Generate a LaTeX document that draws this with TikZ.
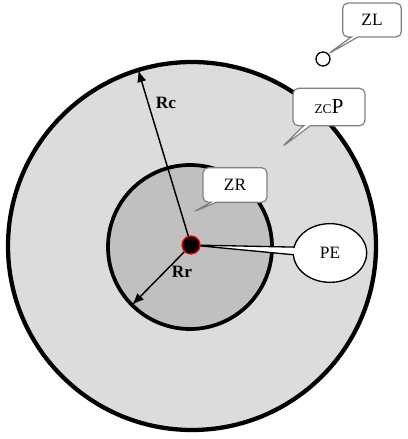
\documentclass[tikz,border=0pt]{standalone}
\usepackage{fontspec}
\setmainfont{Liberation Serif}
\usepackage{tikz}
\usetikzlibrary{arrows.meta,shapes.callouts}

\definecolor{zcgray}{RGB}{220,220,220}
\definecolor{zrgray}{RGB}{192,192,192}
\definecolor{boxgray}{RGB}{128,128,128}

\begin{document}
\begin{tikzpicture}[x=0.75pt, y=-0.75pt,
        zone/.style={draw, circle, inner sep=0pt, outer sep=0pt},
        tag/.style={rectangle callout, draw=boxgray, fill=white, line width=0.9pt, rounded corners=4pt, inner sep=0pt, callout pointer width=5pt, font=\fontsize{13}{15}\selectfont},
        radius arrow/.style={-{Latex[length=9pt,width=7pt]}, line width=1.1pt}]
        \useasboundingbox (0,0) rectangle (407,439);

        % Draw zones
        \node[zone, fill=zcgray, line width=3.2pt, minimum size=276pt] (zc) at (192,246) {};
        \node[zone, fill=zrgray, line width=2.8pt, minimum size=123pt] (zr) at (190,247) {};

        % Draw radii
        \coordinate (pe) at (191,245);
        \draw[radius arrow] (pe) -- (zc.107);
        \draw[radius arrow] (pe) -- (zr.225);
        \node[font=\fontsize{13}{15}\selectfont\bfseries] (rc) at (166,103) {Rc};
        \node[font=\fontsize{13}{15}\selectfont\bfseries] (rr) at (182,272) {Rr};

        % Loose point
        \node[zone, fill=white, line width=1pt, minimum size=10.5pt] (zlpt) at (323,59) {};

        % Labels
        \node[tag, minimum width=44pt, minimum height=25.5pt, callout absolute pointer={(zlpt.north east)}] (zl) at (372,20) {ZL};
        \node[tag, minimum width=54pt, minimum height=28pt, callout absolute pointer={(282,147)}] (zcp) at (329,107) {{\fontsize{10}{11}\selectfont ZC}{\fontsize{16}{17}\selectfont P}};
        \node[tag, minimum width=48pt, minimum height=26pt, callout pointer width=4pt, callout absolute pointer={(193,212)}] (zrt) at (235,185) {ZR};
        \node[ellipse callout, draw, fill=white, line width=1pt, minimum width=55pt, minimum height=44pt, callout pointer width=8pt, callout absolute pointer={(pe)}, font=\fontsize{13}{15}\selectfont] (pel) at (330,253) {PE};

        % Draw point
        \node[zone, fill=black, draw=red, line width=1pt, minimum size=13.5pt] (dot) at (pe) {};
\end{tikzpicture}
\end{document}
